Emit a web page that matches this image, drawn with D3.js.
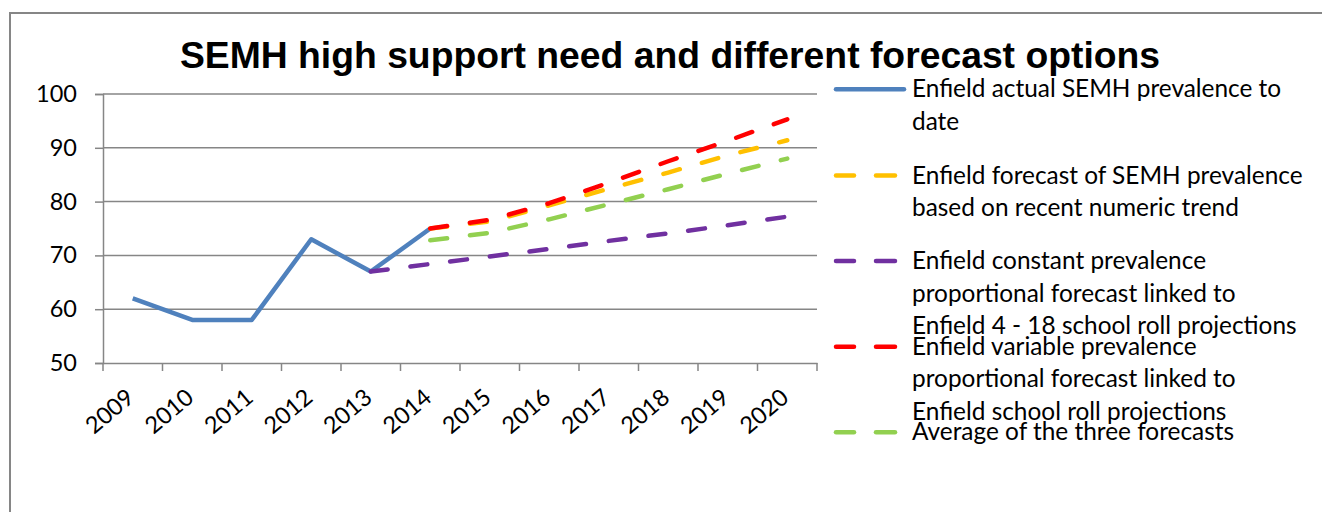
<!DOCTYPE html>
<html>
<head>
<meta charset="utf-8">
<script src="https://cdn.jsdelivr.net/npm/d3@7"></script>
<style>
  html, body { margin: 0; padding: 0; background: #fff; }
  svg { display: block; }
</style>
</head>
<body>
<svg id="chart" width="1322" height="512"></svg>
<script>
// ---- Data ----
const years = ["2009","2010","2011","2012","2013","2014","2015","2016","2017","2018","2019","2020"];
const yTicks = [50, 60, 70, 80, 90, 100];

const actualYears = ["2009","2010","2011","2012","2013","2014"];
const actualValues = [62, 58, 58, 73, 67, 75];

const trendYears = ["2014","2015","2016","2017","2018","2019","2020"];
const trendValues = [75, 76.3, 79.3, 82.4, 85.4, 88.6, 91.4];

const constantYears = ["2013","2014","2015","2016","2017","2018","2019","2020"];
const constantValues = [67, 68.4, 69.8, 71.2, 72.7, 74.1, 75.6, 77.2];

const variableYears = ["2014","2015","2016","2017","2018","2019","2020"];
const variableValues = [75, 76.6, 79.7, 83.5, 87.5, 91.3, 95.3];

const averageYears = ["2014","2015","2016","2017","2018","2019","2020"];
const averageValues = [72.8, 74.2, 76.7, 79.5, 82.3, 85.2, 88.0];

const seriesNames = [
  ["Enfield actual SEMH prevalence to", "date"],
  ["Enfield forecast of SEMH prevalence", "based on recent numeric trend"],
  ["Enfield constant prevalence", "proportional forecast linked to", "Enfield 4 - 18 school roll projections"],
  ["Enfield variable prevalence", "proportional forecast linked to", "Enfield school roll projections"],
  ["Average of the three forecasts"]
];
const seriesColors = ["#4F81BD", "#FFC000", "#7030A0", "#FF0000", "#92D050"];
const titleText = "SEMH high support need and different forecast options";

// ---- Layout ----
const svg = d3.select("#chart");
const fontFam = "Lato, 'Open Sans', sans-serif";
const gridColor = "#868686";

// outer frame
svg.append("path")
  .attr("d", "M10,520 L10,13 L1330,13")
  .attr("fill", "none").attr("stroke", gridColor).attr("stroke-width", 2);

const plot = { left: 103, right: 817, top: 94, bottom: 363 };

const x = d3.scaleBand().domain(years).range([plot.left, plot.right]);
const y = d3.scaleLinear().domain([50, 100]).range([plot.bottom, plot.top]);

// gridlines
svg.append("g").selectAll("line").data(yTicks.filter(d => d !== 50)).join("line")
  .attr("x1", plot.left).attr("x2", plot.right)
  .attr("y1", d => y(d)).attr("y2", d => y(d))
  .attr("stroke", gridColor).attr("stroke-width", 1.5);

// y axis
const yAxis = svg.append("g").attr("transform", `translate(${plot.left},0)`)
  .call(d3.axisLeft(y).tickValues(yTicks).tickSize(8).tickPadding(18).tickFormat(d3.format("d")));
yAxis.select(".domain").attr("stroke", gridColor).attr("stroke-width", 1.5);
yAxis.selectAll(".tick line").attr("stroke", gridColor).attr("stroke-width", 1.5);
yAxis.selectAll("text").attr("font-family", fontFam).attr("font-size", 23.5).attr("fill", "#000");

// x axis
const xAxis = svg.append("g").attr("transform", `translate(0,${plot.bottom})`)
  .call(d3.axisBottom(x).tickSize(0).tickSizeOuter(0));
xAxis.select(".domain").attr("stroke", gridColor).attr("stroke-width", 1.5);
xAxis.selectAll(".tick text")
  .attr("font-family", fontFam).attr("font-size", 23.5).attr("fill", "#000")
  .attr("text-anchor", "end")
  .attr("dy", 0)
  .attr("transform", "translate(3,37) rotate(-40)")
  .attr("y", 0).attr("x", 0);
// boundary ticks
const tickPos = years.map(d => x(d)).concat([plot.right]);
svg.append("g").selectAll("line").data(tickPos).join("line")
  .attr("x1", d => d).attr("x2", d => d)
  .attr("y1", plot.bottom).attr("y2", plot.bottom + 8)
  .attr("stroke", gridColor).attr("stroke-width", 1.5);

// lines
const cx = d => x(d) + x.bandwidth() / 2;
const lineGen = d3.line().x(d => cx(d[0])).y(d => y(d[1]));
const dash = "17,23";

const series = [
  { yrs: actualYears, vals: actualValues, color: seriesColors[0], dashed: false },
  { yrs: trendYears, vals: trendValues, color: seriesColors[1], dashed: true },
  { yrs: constantYears, vals: constantValues, color: seriesColors[2], dashed: true },
  { yrs: variableYears, vals: variableValues, color: seriesColors[3], dashed: true },
  { yrs: averageYears, vals: averageValues, color: seriesColors[4], dashed: true }
];

series.forEach(s => {
  svg.append("path")
    .datum(s.yrs.map((yr, i) => [yr, s.vals[i]]))
    .attr("d", lineGen)
    .attr("fill", "none")
    .attr("stroke", s.color)
    .attr("stroke-width", 4.5)
    .attr("stroke-linejoin", "round")
    .attr("stroke-linecap", s.dashed ? "round" : "butt")
    .attr("stroke-dasharray", s.dashed ? dash : null);
});

// title
svg.append("text")
  .attr("x", 670).attr("y", 68)
  .attr("text-anchor", "middle")
  .attr("font-family", "'Liberation Sans', Arial, sans-serif")
  .attr("font-weight", "bold")
  .attr("font-size", 37.3)
  .attr("fill", "#000")
  .text(titleText);

// legend
const legendY = [89.3, 175.5, 261, 346.7, 432.3];
const lg = svg.append("g");
seriesNames.forEach((lines, i) => {
  const yy = legendY[i];
  const s = series[i];
  if (!s.dashed) {
    lg.append("line").attr("x1", 836).attr("x2", 904).attr("y1", yy).attr("y2", yy)
      .attr("stroke", s.color).attr("stroke-width", 4.5).attr("stroke-linecap", "round");
  } else {
    [[836, 854], [876, 895]].forEach(([a, b]) => {
      lg.append("line").attr("x1", a).attr("x2", b).attr("y1", yy).attr("y2", yy)
        .attr("stroke", s.color).attr("stroke-width", 4.5).attr("stroke-linecap", "round");
    });
  }
  const t = lg.append("text")
    .attr("font-family", fontFam).attr("font-size", 24.4).attr("fill", "#000");
  lines.forEach((ln, j) => {
    t.append("tspan").attr("x", 912).attr("y", yy + 8 + j * 32.5).text(ln);
  });
});
</script>
</body>
</html>
